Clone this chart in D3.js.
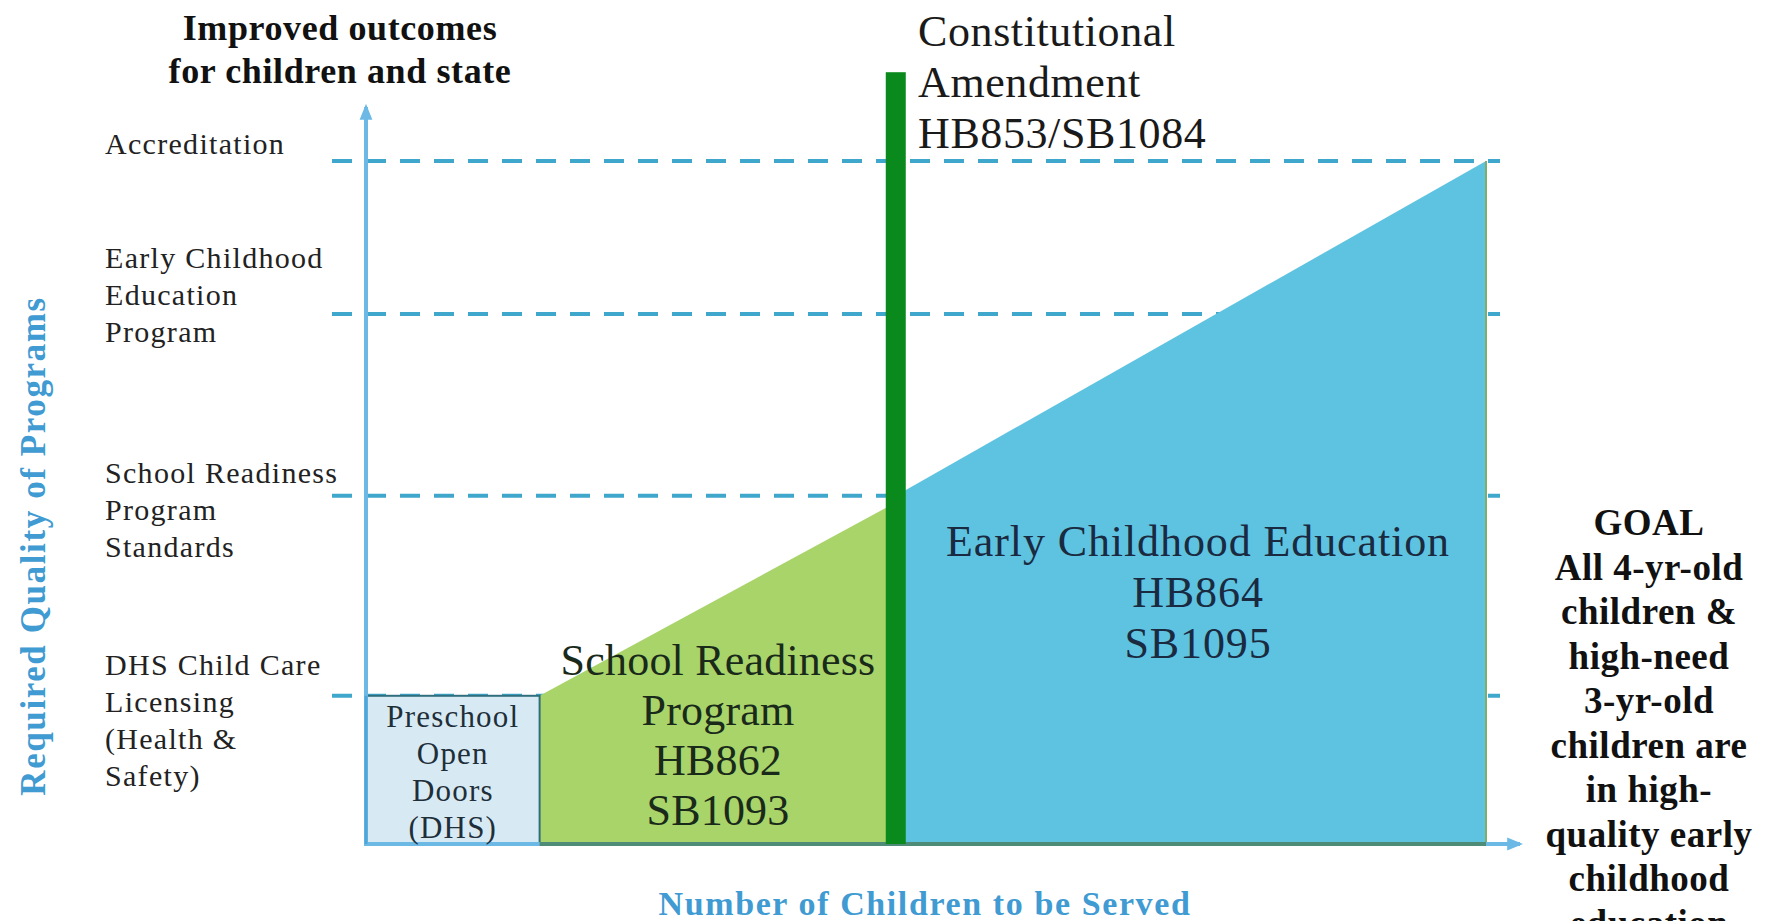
<!DOCTYPE html>
<html>
<head>
<meta charset="utf-8">
<script src="https://cdn.jsdelivr.net/npm/d3@7"></script>
<style>
  body { margin: 0; background: #fff; }
  text { font-family: "Liberation Serif", "DejaVu Serif", serif; }
</style>
</head>
<body>
<div id="chart"></div>
<script>
// quality levels (0-100 scale of required quality), bottom to top
var qualityLevels = [21.7, 51, 77.6, 100];
var levelLabels = [
  ["DHS Child Care", "Licensing", "(Health &", "Safety)"],
  ["School Readiness", "Program", "Standards"],
  ["Early Childhood", "Education", "Program"],
  ["Accreditation"]
];
// programs: share of children served (x) vs required quality (q)
var preschoolX = [0, 15.5];
var preschoolQ = [0, 21.7];
var readinessX = [15.5, 47.3];
var readinessQ = [21.7, 50];
var eceX = [47.3, 100];
var eceQ = [51, 100];
var amendmentX = 47.3;
var amendmentTopQ = 113;

var preschoolLines = ["Preschool", "Open", "Doors", "(DHS)"];
var readinessLines = ["School Readiness", "Program", "HB862", "SB1093"];
var eceLines = ["Early Childhood Education", "HB864", "SB1095"];
var amendmentLines = ["Constitutional", "Amendment", "HB853/SB1084"];
var titleLines = ["Improved outcomes", "for children and state"];
var goalLines = ["GOAL", "All 4-yr-old", "children &", "high-need", "3-yr-old", "children are", "in high-", "quality early", "childhood", "education"];

var svgWidth = 1765, svgHeight = 921;
var svg = d3.select('#chart').append('svg').attr('width', svgWidth).attr('height', svgHeight);

var x = d3.scaleLinear().domain([0, 100]).range([366, 1486]);
var y = d3.scaleLinear().domain([0, 100]).range([844, 161]);

var defs = svg.append('defs');
defs.append('marker').attr('id', 'arrow').attr('viewBox', '0 0 10 10')
  .attr('refX', 8).attr('refY', 5).attr('markerWidth', 4).attr('markerHeight', 4)
  .attr('orient', 'auto')
  .append('path').attr('d', 'M0,1 L10,5 L0,9 Z').attr('fill', '#6cb9e6');

// dashed quality level lines
svg.selectAll('line.level')
  .data(qualityLevels)
  .enter().append('line')
  .attr('class', 'level')
  .attr('x1', 332).attr('x2', 1500)
  .attr('y1', function(d) { return y(d); })
  .attr('y2', function(d) { return y(d); })
  .attr('stroke', '#3fa6cc').attr('stroke-width', 4)
  .attr('stroke-dasharray', '20,14');

var line = d3.line().x(function(d) { return x(d[0]); }).y(function(d) { return y(d[1]); });

// school readiness area (green)
svg.append('path')
  .attr('d', line([[readinessX[0], 0], [readinessX[0], readinessQ[0]], [readinessX[1], readinessQ[1]], [readinessX[1], 0]]) + 'Z')
  .attr('fill', '#a8d46a');

// early childhood education area (blue)
svg.append('path')
  .attr('d', line([[eceX[0], 0], [eceX[0], eceQ[0]], [eceX[1], eceQ[1]], [eceX[1], 0]]) + 'Z')
  .attr('fill', '#5ec3e1');
svg.append('line')
  .attr('x1', x(eceX[1])).attr('x2', x(eceX[1]))
  .attr('y1', y(eceQ[1])).attr('y2', y(0))
  .attr('stroke', '#7fae6a').attr('stroke-width', 2);

// preschool box
svg.append('rect')
  .attr('x', x(preschoolX[0])).attr('y', y(preschoolQ[1]))
  .attr('width', x(preschoolX[1]) - x(preschoolX[0]))
  .attr('height', y(preschoolQ[0]) - y(preschoolQ[1]))
  .attr('fill', '#d7eaf3').attr('stroke', '#2f6e7c').attr('stroke-width', 2);

// axes
svg.append('line')
  .attr('x1', x(0)).attr('x2', 1520).attr('y1', y(0)).attr('y2', y(0))
  .attr('stroke', '#6cb9e6').attr('stroke-width', 4).attr('marker-end', 'url(#arrow)');
svg.append('line')
  .attr('x1', x(readinessX[0])).attr('x2', x(eceX[1])).attr('y1', y(0)).attr('y2', y(0))
  .attr('stroke', '#4f8c78').attr('stroke-width', 4);
svg.append('line')
  .attr('x1', x(0)).attr('x2', x(0)).attr('y1', y(0) + 2).attr('y2', 107)
  .attr('stroke', '#6cb9e6').attr('stroke-width', 4).attr('marker-end', 'url(#arrow)');
svg.append('line')
  .attr('x1', x(0)).attr('x2', x(0)).attr('y1', y(0)).attr('y2', y(preschoolQ[1]))
  .attr('stroke', '#4fa6d8').attr('stroke-width', 3);

// constitutional amendment bar
svg.append('rect')
  .attr('x', x(amendmentX) - 10).attr('y', y(amendmentTopQ))
  .attr('width', 20).attr('height', y(0) - y(amendmentTopQ))
  .attr('fill', '#0a8a1c');

function multiline(lines, cx, firstBaseline, spacing, size, weight, anchor, fill, spacingPx) {
  svg.append('g').selectAll('text')
    .data(lines)
    .enter().append('text')
    .attr('x', cx)
    .attr('y', function(d, i) { return firstBaseline + i * spacing; })
    .attr('text-anchor', anchor)
    .attr('font-size', size)
    .attr('font-weight', weight)
    .attr('letter-spacing', spacingPx || 0)
    .attr('fill', fill)
    .text(function(d) { return d; });
}

// level labels on the left
var labelTops = [665, 473, 258, 144];
levelLabels.forEach(function(lines, i) {
  multiline(lines, 105, labelTops[i] + 10, 37, 30, 'normal', 'start', '#222', 1.3);
});

multiline(titleLines, 340, 40, 43, 36, 'bold', 'middle', '#111', 0.6);
multiline(amendmentLines, 918, 46, 51, 44, 'normal', 'start', '#1a1a1a', 0.6);
multiline(readinessLines, 718, 675, 50, 44, 'normal', 'middle', '#1a2a1a', 0.2);
multiline(eceLines, 1198, 556, 51, 44, 'normal', 'middle', '#1a2a40', 0.9);
multiline(preschoolLines, (x(preschoolX[0]) + x(preschoolX[1])) / 2, 727, 37, 31, 'normal', 'middle', '#1f2f3a', 1.2);
multiline(goalLines, 1649, 535, 44.5, 37, 'bold', 'middle', '#111', 0.5);

// axis titles
svg.append('text')
  .attr('x', 925).attr('y', 915)
  .attr('text-anchor', 'middle').attr('font-size', 34).attr('font-weight', 'bold')
  .attr('letter-spacing', 1.6)
  .attr('fill', '#3f9bd2')
  .text('Number of Children to be Served');
svg.append('text')
  .attr('transform', 'translate(45,546) rotate(-90)')
  .attr('text-anchor', 'middle').attr('font-size', 35).attr('font-weight', 'bold')
  .attr('letter-spacing', 1.6)
  .attr('fill', '#3f9bd2')
  .text('Required Quality of Programs');
</script>
</body>
</html>
